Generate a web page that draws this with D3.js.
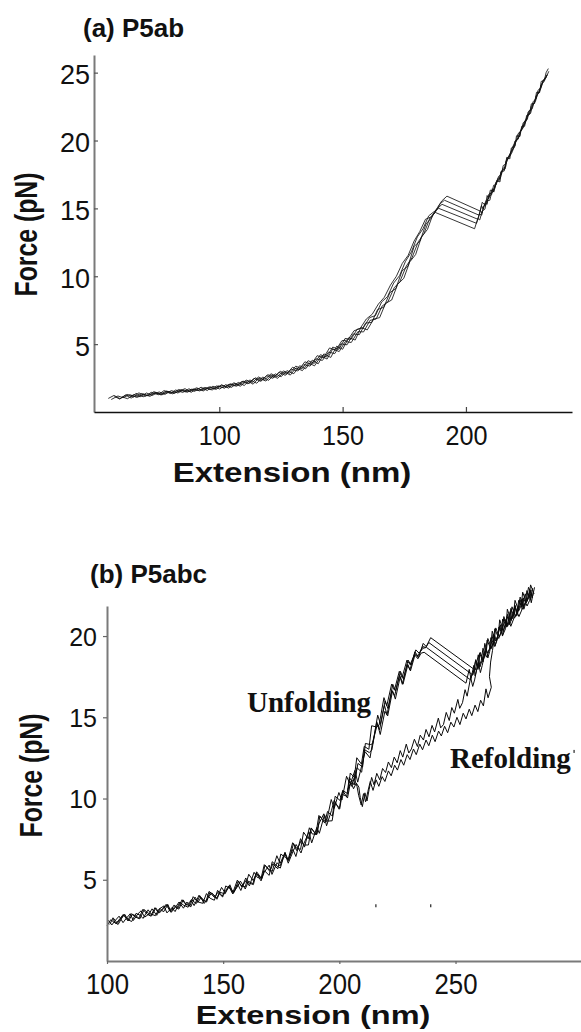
<!DOCTYPE html>
<html>
<head>
<meta charset="utf-8">
<script src="https://cdnjs.cloudflare.com/ajax/libs/d3/7.8.5/d3.min.js"></script>
<style>
body { margin: 0; background: #fff; }
svg { display: block; }
</style>
</head>
<body>
<div id="chart"></div>
<script>
// ---- (a) P5ab : five pulling traces, [extension nm, force pN] ----
const topTrace1 = [[55.0,1.00],[57.3,1.22],[59.8,0.98],[62.6,1.30],[65.1,1.08],[67.4,1.41],[70.2,1.18],[72.4,1.45],[75.3,1.27],[77.6,1.58],[80.1,1.36],[82.3,1.62],[85.2,1.44],[87.7,1.71],[90.0,1.52],[92.6,1.83],[95.1,1.58],[97.4,1.90],[100.2,1.69],[102.6,2.02],[104.9,1.81],[107.7,2.18],[110.1,1.95],[112.4,2.36],[115.2,2.12],[117.6,2.58],[120.0,2.33],[122.7,2.81],[125.1,2.60],[127.4,3.05],[130.2,2.82],[132.6,3.41],[135.0,3.18],[137.7,3.82],[140.1,3.55],[142.4,4.28],[145.2,4.02],[147.6,4.85],[150.0,4.62],[152.5,5.48],[155.1,5.30],[157.4,6.22],[160.0,6.05],[162.6,6.85],[165.0,6.95],[167.4,8.00],[169.9,8.25],[172.3,9.40],[174.8,9.85],[177.2,11.05],[179.6,11.60],[182.0,12.90],[184.4,13.45],[186.6,14.55],[188.4,15.05],[190.2,15.55],[192.3,15.90],
  [205.8,14.80],[206.6,15.45],[207.9,15.20],[208.6,15.95],[209.2,15.70],[210.7,16.45],[211.3,16.20],[212.5,17.05],[213.8,16.95],[214.4,17.75],[215.9,17.90],[216.5,18.75],[217.8,18.65],[218.4,19.45],[219.9,19.60],[220.5,20.35],[221.9,20.30],[222.6,21.05],[223.8,21.05],[224.6,21.85],[225.9,21.95],[226.5,22.70],[227.9,22.75],[228.6,23.55],[229.9,23.55],[230.5,24.35],[231.8,24.45],[232.5,25.00],[233.4,25.30]];
const topTrace2 = [[57.5,1.15],[59.6,0.95],[61.9,1.25],[64.4,1.02],[66.2,1.38],[69.1,1.12],[71.7,1.27],[73.5,1.50],[76.4,1.25],[78.8,1.52],[81.0,1.34],[83.9,1.55],[86.1,1.72],[88.6,1.45],[91.2,1.74],[93.5,1.55],[96.3,1.86],[98.7,1.66],[101.0,1.98],[103.8,1.76],[106.1,2.10],[108.5,1.90],[111.3,2.30],[113.7,2.05],[116.0,2.50],[118.9,2.28],[121.2,2.72],[123.6,2.48],[126.4,2.95],[128.8,2.72],[131.1,3.25],[133.7,3.05],[136.2,3.62],[138.6,3.40],[141.3,4.12],[143.7,3.90],[146.0,4.65],[148.6,4.45],[151.1,5.20],[153.5,5.12],[156.2,5.92],[158.5,5.90],[161.1,6.75],[163.6,6.85],[166.0,7.80],[168.3,8.10],[170.9,9.15],[173.2,9.60],[175.8,10.75],[178.1,11.35],[180.7,12.55],[183.0,13.15],[185.4,14.30],[187.5,14.70],[189.6,15.35],[191.3,15.60],
  [205.3,14.50],[206.3,15.20],[207.0,14.95],[208.2,15.60],[209.1,15.70],[209.9,16.35],[211.2,16.25],[212.0,16.85],[213.1,17.25],[213.9,17.20],[215.0,17.95],[216.1,18.05],[216.8,18.75],[218.0,18.90],[218.9,19.20],[219.8,19.95],[221.0,20.10],[221.7,20.60],[222.9,20.85],[223.8,21.45],[224.9,21.55],[225.6,22.20],[226.9,22.35],[227.7,22.85],[228.8,23.30],[229.6,23.60],[230.7,24.15],[231.7,24.50],[232.9,24.85]];
const topTrace3 = [[56.2,0.92],[58.9,1.18],[61.0,1.05],[63.5,1.28],[66.3,1.10],[68.6,1.36],[71.0,1.20],[73.9,1.42],[76.2,1.30],[78.4,1.55],[81.3,1.42],[83.6,1.66],[86.2,1.48],[88.8,1.68],[91.5,1.58],[93.9,1.80],[96.4,1.65],[98.9,1.92],[101.6,1.80],[104.0,2.05],[106.5,1.92],[109.2,2.25],[111.6,2.08],[114.1,2.48],[116.7,2.26],[119.2,2.68],[121.7,2.48],[124.2,2.92],[126.8,2.70],[129.2,3.15],[131.8,3.02],[134.3,3.50],[136.8,3.38],[139.2,3.92],[141.8,3.80],[144.3,4.42],[146.8,4.30],[149.3,5.02],[151.8,4.95],[154.3,5.75],[156.8,5.70],[159.3,6.55],[161.8,6.60],[164.2,7.55],[166.7,7.72],[169.2,8.80],[171.6,9.10],[174.1,10.40],[176.5,10.75],[179.0,12.20],[181.4,12.60],[183.8,13.85],[186.0,14.30],[188.2,14.95],[190.3,15.30],
  [204.8,14.20],[205.9,14.85],[206.5,14.65],[207.7,15.40],[208.6,15.30],[209.3,16.05],[210.7,16.15],[211.4,16.50],[212.4,16.95],[213.5,17.05],[214.2,17.70],[215.5,17.75],[216.2,18.45],[217.4,18.70],[218.1,19.05],[219.3,19.45],[220.2,19.95],[221.2,20.10],[222.2,20.75],[223.1,20.90],[224.3,21.40],[225.1,21.90],[226.2,22.00],[227.1,22.60],[228.3,22.95],[229.0,23.40],[230.3,23.80],[231.1,24.30],[232.6,24.70]];
const topTrace4 = [[60.5,1.12],[62.8,0.98],[65.4,1.30],[67.9,1.12],[70.5,1.40],[72.8,1.22],[75.6,1.48],[78.0,1.30],[80.6,1.58],[83.2,1.40],[85.5,1.62],[88.1,1.50],[90.7,1.78],[93.2,1.60],[95.8,1.84],[98.2,1.70],[100.9,2.00],[103.3,1.82],[105.9,2.15],[108.3,1.98],[110.9,2.35],[113.4,2.18],[115.9,2.58],[118.4,2.36],[121.0,2.82],[123.5,2.60],[126.0,3.02],[128.5,2.85],[131.0,3.38],[133.5,3.18],[136.0,3.78],[138.5,3.58],[141.0,4.22],[143.5,4.05],[146.0,4.78],[148.5,4.62],[151.0,5.42],[153.4,5.35],[155.9,6.10],[158.4,6.20],[160.9,6.95],[163.3,7.10],[165.8,8.10],[168.2,8.50],[170.7,9.50],[173.1,10.05],[175.5,11.10],[177.9,11.80],[180.3,12.90],[182.6,13.50],[184.9,14.45],[187.0,14.75],[189.0,15.00],
  [204.3,13.90],[205.5,14.60],[206.4,14.50],[207.1,15.15],[208.5,15.40],[209.1,15.90],[210.4,16.00],[211.2,16.70],[212.3,16.75],[213.2,17.35],[214.4,17.50],[215.1,18.15],[216.3,18.30],[217.2,18.80],[218.3,19.20],[219.1,19.60],[220.4,19.95],[221.1,20.50],[222.4,20.70],[223.2,21.30],[224.4,21.45],[225.2,22.10],[226.4,22.25],[227.2,22.85],[228.5,23.10],[229.2,23.70],[230.5,23.90],[231.3,24.45],[232.5,24.65],[233.6,25.10]];
const topTrace5 = [[64.0,1.25],[66.8,1.08],[69.3,1.32],[71.9,1.15],[74.2,1.45],[76.9,1.28],[79.5,1.50],[81.8,1.38],[84.6,1.65],[87.0,1.45],[89.5,1.70],[92.1,1.55],[94.5,1.80],[97.1,1.62],[99.6,1.92],[102.1,1.75],[104.6,2.08],[107.1,1.90],[109.6,2.28],[112.1,2.10],[114.6,2.52],[117.1,2.30],[119.7,2.75],[122.2,2.55],[124.7,3.00],[127.2,2.78],[129.7,3.30],[132.2,3.10],[134.7,3.70],[137.2,3.50],[139.7,4.15],[142.2,3.98],[144.7,4.72],[147.2,4.55],[149.7,5.25],[152.1,5.30],[154.6,5.98],[157.1,6.15],[159.6,6.85],[162.0,7.20],[164.5,7.95],[166.9,8.45],[169.4,9.35],[171.8,10.00],[174.2,10.95],[176.6,11.55],[179.0,12.60],[181.3,13.30],[183.6,14.20],[185.6,14.35],[187.6,14.70],
  [203.5,13.50],[204.8,14.25],[205.6,14.15],[206.6,14.80],[207.7,14.95],[208.4,15.55],[209.7,15.60],[210.5,16.25],[211.6,16.45],[212.4,16.90],[213.6,17.25],[214.4,17.75],[215.6,17.90],[216.4,18.55],[217.6,18.80],[218.4,19.20],[219.7,19.50],[220.4,20.05],[221.7,20.30],[222.4,20.85],[223.6,21.20],[224.4,21.60],[225.7,21.95],[226.4,22.50],[227.7,22.75],[228.4,23.30],[229.7,23.50],[230.4,24.05],[231.7,24.35],[233.0,24.85]];

// ---- (b) P5abc : unfolding and refolding traces ----
const botUnfold1 = [[100.0,2.16],[101.6,2.54],[102.9,2.40],[104.8,2.25],[106.1,2.58],[107.3,2.82],[109.4,2.52],[110.6,2.43],[112.5,2.93],[114.2,2.82],[115.5,2.62],[117.7,3.15],[119.0,2.89],[120.8,2.79],[122.4,3.20],[124.5,3.39],[125.8,2.96],[127.9,3.28],[129.3,3.04],[131.4,3.63],[132.8,3.45],[134.9,3.31],[136.3,3.78],[138.4,3.53],[140.0,4.01],[141.8,3.54],[143.7,3.94],[145.1,4.19],[147.3,3.80],[148.6,4.23],[150.8,4.13],[152.4,4.60],[154.1,4.13],[156.0,4.55],[157.4,4.92],[159.5,4.43],[160.9,4.91],[162.8,4.76],[164.2,5.42],[166.3,4.93],[167.6,5.45],[169.8,5.90],[171.0,5.33],[173.2,6.05],[174.5,5.85],[176.6,6.62],[178.0,6.02],[180.1,6.76],[181.4,7.17],[183.5,6.65],[184.8,7.25],[186.9,7.94],[188.1,7.27],[190.3,8.22],[191.4,7.86],[193.6,9.00],[194.8,8.61],[196.9,8.63],[198.1,9.72],[200.2,9.39],[201.4,10.49],[203.5,10.03],[204.6,10.84],[206.7,11.73],[207.9,11.01],[210.0,12.24],[211.1,12.88],[213.2,12.50],[214.3,13.46],[216.4,14.59],[217.6,13.94],[219.6,15.37],[220.8,15.08],[222.9,16.63],[224.1,16.12],[226.2,17.50],[227.4,17.04],[229.5,18.24],[230.6,17.85],[232.7,18.92],[234.0,18.66],[236.1,19.55],[237.4,19.35],[239.3,19.90],
  [258.5,17.90],[259.8,18.85],[260.5,18.10],[261.9,18.70],[262.6,19.55],[263.7,18.95],[265.1,19.35],[265.8,20.30],[267.2,19.70],[268.4,20.05],[269.0,21.00],[270.6,20.35],[271.8,20.75],[272.3,21.65],[273.9,20.95],[275.0,21.40],[275.6,22.20],[277.2,21.55],[278.3,21.90],[278.9,22.70],[280.5,22.05],[281.6,22.40],[282.3,23.15],[283.8,22.60]];
const botUnfold2 = [[100.5,2.51],[102.1,2.22],[103.4,2.47],[105.2,2.76],[106.9,2.36],[108.1,2.59],[110.0,2.91],[111.3,2.49],[113.3,2.90],[114.7,3.09],[116.2,2.70],[118.1,2.89],[119.4,3.21],[121.4,2.81],[122.9,3.23],[124.3,3.02],[126.2,3.47],[127.6,2.99],[129.7,3.35],[131.0,3.63],[132.9,3.25],[134.4,3.63],[136.0,3.32],[137.9,3.93],[139.3,3.63],[141.2,3.55],[142.8,4.15],[144.4,3.86],[146.2,3.74],[147.6,4.35],[149.6,3.99],[151.0,4.34],[152.9,4.69],[154.3,4.16],[156.3,4.71],[157.6,4.34],[159.7,5.11],[161.0,4.81],[163.0,4.70],[164.4,5.49],[166.4,5.10],[167.8,5.55],[169.8,5.27],[171.1,6.11],[173.2,5.84],[174.6,5.72],[176.6,6.70],[177.9,6.22],[180.0,6.87],[181.3,6.43],[183.3,7.53],[184.6,7.14],[186.7,7.14],[187.9,8.19],[190.0,7.76],[191.2,8.44],[193.3,9.06],[194.5,8.32],[196.6,9.26],[197.8,9.90],[199.9,9.34],[201.1,10.26],[203.2,10.14],[204.3,11.30],[206.4,10.83],[207.6,11.90],[209.6,11.62],[210.8,13.01],[212.9,12.83],[214.0,12.99],[216.1,14.72],[217.3,14.23],[219.4,15.74],[220.5,15.16],[222.6,16.64],[223.8,16.33],[225.9,17.59],[227.1,17.03],[229.2,18.26],[230.4,17.92],[232.5,19.03],[233.8,18.77],[235.9,19.35],[237.2,19.30],[238.5,19.60],
  [257.5,17.60],[258.6,18.45],[259.7,17.95],[260.4,18.95],[261.8,18.40],[263.0,19.10],[263.6,19.75],[265.2,19.20],[266.3,19.65],[266.9,20.45],[268.6,19.85],[269.7,20.30],[270.3,21.05],[272.0,20.55],[273.1,20.90],[273.8,21.70],[275.4,21.10],[276.5,21.50],[277.2,22.20],[278.9,21.65],[280.0,22.05],[280.7,22.80],[282.3,22.25],[283.2,22.95]];
const botUnfold3 = [[101.2,2.25],[102.6,2.66],[104.5,2.32],[105.9,2.62],[107.6,2.88],[109.3,2.47],[110.9,2.88],[112.8,2.74],[114.1,2.59],[116.0,3.16],[117.6,2.97],[119.2,2.77],[121.0,3.27],[122.5,2.95],[124.3,3.22],[125.9,3.49],[127.5,3.03],[129.4,3.39],[130.9,3.19],[132.8,3.76],[134.2,3.44],[136.2,3.72],[137.5,3.41],[139.6,4.05],[140.9,3.77],[142.9,3.64],[144.3,4.22],[146.3,3.90],[147.7,4.23],[149.8,3.94],[151.1,4.62],[153.1,4.46],[154.6,4.23],[156.5,4.92],[158.0,4.55],[159.9,4.97],[161.3,4.62],[163.3,5.46],[164.7,5.14],[166.7,5.08],[168.0,5.90],[170.1,5.51],[171.4,5.99],[173.5,5.67],[174.8,6.58],[176.9,6.36],[178.2,6.18],[180.3,7.23],[181.6,6.80],[183.7,7.45],[185.0,7.01],[187.1,8.20],[188.3,7.82],[190.4,7.80],[191.6,8.92],[193.7,8.49],[194.9,9.20],[197.0,8.92],[198.2,10.14],[200.3,9.88],[201.5,10.49],[203.6,10.30],[204.7,11.57],[206.8,11.25],[208.0,12.16],[210.0,11.94],[211.2,13.39],[213.3,13.32],[214.4,13.37],[216.5,15.13],[217.7,14.59],[219.7,16.01],[220.9,15.54],[223.0,17.03],[224.2,16.62],[226.3,17.83],[227.5,17.37],[229.6,18.52],[230.8,18.21],[232.9,19.15],[234.3,18.95],[236.0,19.25],[237.5,19.30],
  [256.5,17.30],[257.9,18.20],[258.4,17.55],[259.8,18.30],[260.6,19.00],[261.9,18.55],[263.2,19.05],[263.9,19.85],[265.5,19.25],[266.7,19.80],[267.3,20.50],[268.9,19.95],[270.0,20.40],[270.8,21.20],[272.4,20.60],[273.6,21.00],[274.3,21.80],[275.9,21.20],[277.1,21.65],[277.8,22.40],[279.4,21.85],[280.6,22.25],[281.4,23.00],[282.8,22.55]];
const botUnfold4 = [[102.5,2.60],[103.8,2.30],[105.6,2.61],[107.0,2.87],[108.9,2.48],[110.4,2.91],[112.1,2.72],[113.7,2.61],[115.5,3.19],[117.1,2.90],[118.8,2.76],[120.6,3.28],[122.1,2.96],[123.9,3.21],[125.4,3.48],[127.2,3.06],[128.9,3.45],[130.4,3.21],[132.3,3.77],[133.8,3.50],[135.7,3.39],[137.1,3.96],[139.1,3.60],[140.5,3.92],[142.5,3.62],[143.9,4.28],[145.9,4.08],[147.3,3.87],[149.3,4.53],[150.8,4.20],[152.7,4.59],[154.2,4.22],[156.1,4.98],[157.6,4.67],[159.5,4.56],[161.0,5.34],[162.9,4.95],[164.4,5.39],[166.3,5.09],[167.7,5.93],[169.7,5.64],[171.1,5.52],[173.1,6.48],[174.5,6.01],[176.5,6.63],[177.9,6.21],[179.9,7.28],[181.3,6.97],[183.3,6.87],[184.6,7.93],[186.6,7.52],[187.9,8.17],[189.9,7.82],[191.2,8.96],[193.2,8.65],[194.5,8.58],[196.5,9.94],[197.8,9.40],[199.8,10.37],[201.1,9.91],[203.1,11.37],[204.3,10.98],[206.3,11.15],[207.5,12.51],[209.5,12.12],[210.7,13.21],[212.7,13.03],[213.9,14.48],[216.0,14.40],[217.1,14.52],[219.2,16.21],[220.4,15.70],[222.5,17.04],[223.7,16.67],[225.8,17.83],[227.0,17.45],[229.1,18.52],[230.4,18.25],[232.4,18.85],[233.8,18.60],[235.2,18.95],[236.5,19.00],
  [254.5,17.10],[255.9,17.95],[256.6,17.40],[257.8,17.85],[258.7,18.55],[260.0,18.05],[261.1,18.50],[261.8,19.25],[263.3,18.70],[264.6,19.15],[265.2,19.90],[266.9,19.35],[268.0,19.80],[268.7,20.55],[270.3,20.05],[271.5,20.45],[272.2,21.20],[273.8,20.60],[275.0,21.05],[275.7,21.75],[277.3,21.20],[278.5,21.60],[279.2,22.35],[280.8,21.85],[281.9,22.20],[282.6,22.85]];
const botRefold1 = [[283.5,22.70],[282.6,22.05],[281.9,22.55],[280.6,22.20],[279.4,21.65],[278.8,22.30],[277.3,21.70],[276.4,21.25],[275.6,21.90],[274.1,21.05],[273.3,20.70],[272.5,21.35],[271.0,20.55],[270.2,20.00],[269.3,20.70],[267.9,19.85],[267.0,19.40],[266.2,20.10],[264.7,19.05],[263.9,18.65],[263.1,19.30],[261.5,18.20],[260.7,17.75],[259.8,18.40],[258.2,17.30],[257.4,16.90],[256.5,17.45],[255.0,16.30],[254.1,16.70],[253.0,15.90],[251.8,15.55],[251.0,16.10],[249.5,15.25],[248.4,15.60],[247.3,14.80],[246.0,15.30],[244.8,14.55],[243.6,14.35],[242.6,14.95],[241.0,14.10],[239.9,14.50],[238.6,13.80],[237.3,14.25],[236.2,13.60],[234.8,13.90],[233.6,13.20],[232.3,13.65],[231.0,13.05],[229.9,12.80],[228.8,13.35],[227.3,12.55],[226.2,12.95],[224.9,12.20],[223.6,12.55],[222.4,11.90],[221.1,12.25],[219.9,11.60],[218.6,11.85],[217.4,11.15],[216.1,11.55],[214.9,10.85],[213.9,11.30],[212.8,10.55],[211.9,9.85],[211.0,10.35],[209.9,9.50],[209.0,10.05],[208.4,10.70],[207.3,10.95],[206.1,10.60],[205.0,11.00],[203.6,10.55]];
const botRefold2 = [[284.0,23.00],[283.0,22.35],[282.1,22.85],[280.8,22.15],[280.0,22.60],[278.6,21.80],[277.8,22.25],[276.5,21.40],[275.7,21.85],[274.3,21.05],[273.5,21.50],[272.1,20.60],[271.2,21.05],[269.9,20.20],[269.0,20.60],[267.6,19.70],[266.8,20.05],[265.9,19.10],[265.1,18.40],[264.6,17.50],[265.4,16.85],[264.0,16.20],[263.1,16.75],[262.0,15.70],[260.8,16.05],[259.6,15.35],[258.4,15.75],[257.0,15.10],[255.9,15.50],[254.5,14.90],[253.3,15.25],[251.9,14.55],[250.6,15.00],[249.3,14.40],[248.0,14.70],[246.6,14.05],[245.3,14.45],[243.9,13.85],[242.7,14.15],[241.2,13.50],[240.0,13.90],[238.5,13.25],[237.3,13.60],[235.8,13.00],[234.6,13.35],[233.1,12.70],[231.9,13.05],[230.4,12.40],[229.2,12.70],[227.7,12.05],[226.5,12.40],[225.0,11.75],[223.8,12.05],[222.3,11.40],[221.1,11.70],[219.6,11.05],[218.4,11.35],[217.0,10.75],[215.8,11.15],[214.5,10.50],[213.3,11.05],[212.3,10.45],[211.3,9.80],[210.4,10.30],[209.4,9.60],[208.3,10.20],[207.6,10.75],[206.4,11.25],[205.3,10.75],[204.1,11.10]];
const strayMarks = [[215.7,3.4],[239.3,3.4],[301.0,12.9]];

const topXTicks = [100, 150, 200];
const topYTicks = [5, 10, 15, 20, 25];
const botXTicks = [100, 150, 200, 250];
const botYTicks = [5, 10, 15, 20];

const sans = "'Liberation Sans', Arial, Helvetica, sans-serif";
const serif = "'Liberation Serif', 'Times New Roman', serif";

const svg = d3.select("#chart")
    .append("svg")
    .attr("width", 581)
    .attr("height", 1032);

svg.append("rect").attr("width", 581).attr("height", 1032).attr("fill", "#fff");

// scales
let xTop = d3.scaleLinear().domain([49.2, 243]).range([94, 572]);
let yTop = d3.scaleLinear().domain([0, 26.3]).range([412, 55]);
let xBot = d3.scaleLinear().domain([100, 304]).range([107, 581]);
let yBot = d3.scaleLinear().domain([0, 21.85]).range([961, 606]);

// traces
let lineTop = d3.line().x(d => xTop(d[0])).y(d => yTop(d[1]));
let lineBot = d3.line().x(d => xBot(d[0])).y(d => yBot(d[1]));

svg.append("g")
    .selectAll("path")
    .data([topTrace1, topTrace2, topTrace3, topTrace4, topTrace5])
    .join("path")
    .attr("d", lineTop)
    .attr("fill", "none")
    .attr("stroke", "#111")
    .attr("stroke-width", 0.85);

svg.append("g")
    .selectAll("path")
    .data([botUnfold1, botUnfold2, botUnfold3, botUnfold4, botRefold1, botRefold2])
    .join("path")
    .attr("d", lineBot)
    .attr("fill", "none")
    .attr("stroke", "#0a0a0a")
    .attr("stroke-width", 1.0);

svg.append("g")
    .selectAll("rect")
    .data(strayMarks)
    .join("rect")
    .attr("x", d => xBot(d[0]) - 0.6)
    .attr("y", d => yBot(d[1]) - 1.5)
    .attr("width", 1.3)
    .attr("height", 3)
    .attr("fill", "#333");

// axes, top panel
let gyTop = svg.append("g")
    .attr("transform", "translate(94,0)")
    .call(d3.axisLeft(yTop).tickValues(topYTicks).tickSizeInner(-4).tickSizeOuter(0).tickPadding(4));
gyTop.select(".domain").attr("stroke", "#7a7a7a").attr("stroke-width", 2);
gyTop.selectAll(".tick line").attr("stroke", "#555").attr("stroke-width", 1.2);
gyTop.selectAll(".tick text")
    .attr("font-family", sans).attr("font-size", 27).attr("dy", "0.42em").attr("fill", "#111");

let gxTop = svg.append("g")
    .attr("transform", "translate(0,412)")
    .call(d3.axisBottom(xTop).tickValues(topXTicks).tickSizeInner(-5).tickSizeOuter(0).tickPadding(13));
gxTop.select(".domain").attr("stroke", "#111").attr("stroke-width", 1.5);
gxTop.selectAll(".tick line").attr("stroke", "#444").attr("stroke-width", 1.2);
gxTop.selectAll(".tick text")
    .attr("font-family", sans).attr("font-size", 28).attr("fill", "#111")
    .attr("transform", "scale(0.9,1)");

// axes, bottom panel
let gyBot = svg.append("g")
    .attr("transform", "translate(107,0)")
    .call(d3.axisLeft(yBot).tickValues(botYTicks).tickSizeInner(4).tickSizeOuter(0).tickPadding(6));
gyBot.select(".domain").attr("stroke", "#7a7a7a").attr("stroke-width", 2);
gyBot.selectAll(".tick line").attr("stroke", "#666").attr("stroke-width", 1.2);
gyBot.selectAll(".tick text")
    .attr("font-family", sans).attr("font-size", 25).attr("dy", "0.36em").attr("fill", "#111");

let gxBot = svg.append("g")
    .attr("transform", "translate(0,961)")
    .call(d3.axisBottom(xBot).tickValues(botXTicks).tickSizeInner(3).tickSizeOuter(0).tickPadding(9));
gxBot.select(".domain").attr("stroke", "#7a7a7a").attr("stroke-width", 2);
gxBot.selectAll(".tick line").attr("stroke", "#666").attr("stroke-width", 1.2);
gxBot.selectAll(".tick text")
    .attr("font-family", sans).attr("font-size", 30).attr("fill", "#111")
    .attr("transform", "scale(0.86,1)");

// titles and axis labels
function label(txt, tr, size, opts) {
    opts = opts || {};
    svg.append("text")
        .attr("transform", tr)
        .attr("text-anchor", opts.anchor || "middle")
        .attr("font-family", opts.family || sans)
        .attr("font-weight", "bold")
        .attr("font-size", size)
        .attr("fill", "#111")
        .text(txt);
}

label("(a) P5ab", "translate(83,37)", 26, {anchor: "start"});
label("(b) P5abc", "translate(90,583)", 26, {anchor: "start"});

label("Force (pN)", "translate(37,234.5) rotate(-90) scale(0.8,1)", 31);
label("Force (pN)", "translate(42,775.5) rotate(-90) scale(0.8,1)", 31);

label("Extension (nm)", "translate(292,482) scale(1.18,1)", 28);
label("Extension (nm)", "translate(313,1024) scale(1.25,1)", 26);

label("Unfolding", "translate(247,712)", 29, {anchor: "start", family: serif});
label("Refolding", "translate(450,768)", 29, {anchor: "start", family: serif});
</script>
</body>
</html>
